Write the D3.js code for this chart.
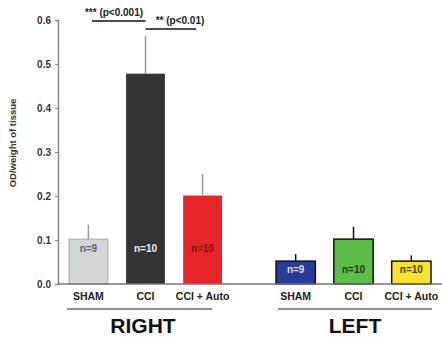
<!DOCTYPE html>
<html>
<head>
<meta charset="utf-8">
<script src="https://cdn.jsdelivr.net/npm/d3@7"></script>
<style>
  body { margin: 0; background: #fff; }
  text { font-family: Arial, "Liberation Sans", sans-serif; }
</style>
</head>
<body>
<div class="chart-container"></div>
<script>
// values
const groups = ["RIGHT", "LEFT"];
const categories = ["SHAM", "CCI", "CCI + Auto"];
const rightValues = [0.102, 0.478, 0.201];
const rightErrors = [0.033, 0.086, 0.049];
const leftValues = [0.052, 0.102, 0.052];
const leftErrors = [0.016, 0.028, 0.013];
const nLabels = ["n=9", "n=10", "n=10"];
const yTicks = [0, 0.1, 0.2, 0.3, 0.4, 0.5, 0.6];
const sigLabels = ["*** (p<0.001)", "** (p<0.01)"];

const rightColors = ["#d3d6d6", "#333333", "#e52527"];
const leftColors = ["#2a3a9a", "#5cbd48", "#f4e42c"];
const rightText = ["#666", "#eee", "#8a1010"];
const leftText = ["#dde", "#1f3d12", "#4a4210"];

const data = [];
categories.forEach((c, i) => data.push({ group: "RIGHT", cat: c, v: rightValues[i], e: rightErrors[i], fill: rightColors[i], tc: rightText[i], n: nLabels[i], right: true }));
categories.forEach((c, i) => data.push({ group: "LEFT", cat: c, v: leftValues[i], e: leftErrors[i], fill: leftColors[i], tc: leftText[i], n: nLabels[i], right: false }));

createPlot(data);

function createPlot(data) {
    const width = 442, height = 337;
    const x0 = 58, yBase = 284;

    const svg = d3.select(".chart-container").append("svg")
        .attr("width", width)
        .attr("height", height);

    const y = d3.scaleLinear()
        .domain([0, 0.6])
        .range([yBase, 20]);

    // each group gets its own band scale for the three bars
    const gx = d3.scaleOrdinal().domain(groups).range([[69, 222], [276, 431]]);
    const xb = {};
    groups.forEach(g => {
        xb[g] = d3.scaleBand().domain(categories).range(gx(g)).paddingInner(0.32).paddingOuter(0);
    });
    const mid = d => xb[d.group](d.cat) + xb[d.group].bandwidth() / 2;

    // y axis
    const yAxis = svg.append("g")
        .attr("transform", "translate(" + x0 + ",0)")
        .call(d3.axisLeft(y).tickValues(yTicks).tickFormat(d3.format(".1f")).tickSize(3).tickPadding(4));
    yAxis.select(".domain").attr("stroke", "#888").attr("stroke-width", 1.5);
    yAxis.selectAll(".tick line").attr("stroke", "#888");
    yAxis.selectAll("text").attr("font-size", 10).attr("font-weight", "bold").attr("fill", "#333");

    svg.append("text")
        .attr("transform", "translate(16,143) rotate(-90)")
        .attr("text-anchor", "middle")
        .attr("font-size", 9.5)
        .attr("font-weight", "bold")
        .attr("fill", "#333")
        .text("OD/weight of tissue");

    // bars
    svg.selectAll("rect.bar")
        .data(data)
        .join("rect")
        .attr("class", "bar")
        .attr("x", d => xb[d.group](d.cat))
        .attr("width", d => xb[d.group].bandwidth())
        .attr("y", d => y(d.v))
        .attr("height", d => y(0) - y(d.v))
        .attr("fill", d => d.fill)
        .attr("stroke", d => d.right ? (d.cat === "SHAM" ? "#aaa" : "none") : "#111")
        .attr("stroke-width", d => d.right ? 1 : 1.5);

    // error bars (upper only)
    svg.selectAll("line.err")
        .data(data)
        .join("line")
        .attr("class", "err")
        .attr("x1", mid)
        .attr("x2", mid)
        .attr("y1", d => y(d.v))
        .attr("y2", d => y(d.v + d.e))
        .attr("stroke", d => d.right ? "#999" : "#111")
        .attr("stroke-width", 1.5);

    // n labels
    svg.selectAll("text.n")
        .data(data)
        .join("text")
        .attr("class", "n")
        .attr("x", mid)
        .attr("y", d => d.right ? y(0) - 32 : y(0) - 11)
        .attr("text-anchor", "middle")
        .attr("font-size", 10)
        .attr("font-weight", "bold")
        .attr("fill", d => d.tc)
        .text(d => d.n);

    // x baseline
    svg.append("line")
        .attr("x1", x0).attr("x2", width)
        .attr("y1", y(0)).attr("y2", y(0))
        .attr("stroke", "#777").attr("stroke-width", 1.5);

    // category labels
    svg.selectAll("text.cat")
        .data(data)
        .join("text")
        .attr("class", "cat")
        .attr("x", mid)
        .attr("y", y(0) + 16)
        .attr("text-anchor", "middle")
        .attr("font-size", 10.5)
        .attr("font-weight", "bold")
        .attr("fill", "#222")
        .text(d => d.cat);

    // group lines and titles
    const groupLines = { RIGHT: [67, 212], LEFT: [278, 432] };
    groups.forEach(g => {
        const [a, b] = groupLines[g];
        svg.append("line")
            .attr("x1", a).attr("x2", b)
            .attr("y1", 309).attr("y2", 309)
            .attr("stroke", "#222").attr("stroke-width", 1.2);
        svg.append("text")
            .attr("x", g === "RIGHT" ? 143 : 355)
            .attr("y", 333)
            .attr("text-anchor", "middle")
            .attr("font-size", 21)
            .attr("font-weight", "bold")
            .attr("fill", "#111")
            .text(g);
    });

    // significance brackets
    const cx = c => xb.RIGHT(c) + xb.RIGHT.bandwidth() / 2;
    const sig = [
        { a: 92, b: cx("CCI"), ly: 21, label: sigLabels[0], tx: 114, ty: 16 },
        { a: cx("CCI"), b: 196, ly: 29, label: sigLabels[1], tx: 180, ty: 24 }
    ];
    sig.forEach(s => {
        svg.append("line")
            .attr("x1", s.a).attr("x2", s.b)
            .attr("y1", s.ly).attr("y2", s.ly)
            .attr("stroke", "#111").attr("stroke-width", 1.5);
        svg.append("text")
            .attr("x", s.tx).attr("y", s.ty)
            .attr("text-anchor", "middle")
            .attr("font-size", 10)
            .attr("font-weight", "bold")
            .attr("fill", "#222")
            .text(s.label);
    });
}
</script>
</body>
</html>
